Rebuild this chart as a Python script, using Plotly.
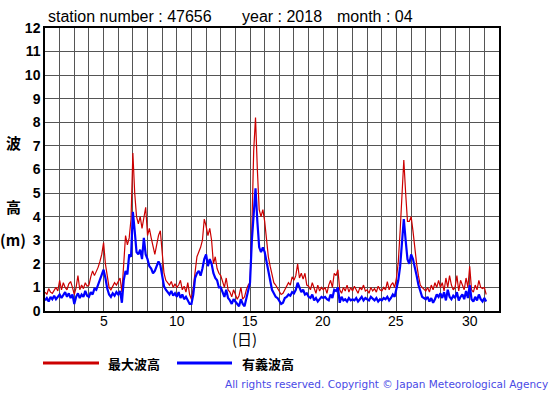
import numpy as np
import plotly.graph_objects as go

# 3-hourly samples starting at day 1 00:00 (8 per day)
max_wave = [
    0.80,0.70,0.95,0.80,0.75,0.90,1.00,0.85,
    1.30,0.90,1.20,1.00,0.90,1.15,1.25,1.00,
    0.70,1.00,1.50,0.90,1.10,0.95,1.20,1.05,
    1.10,1.45,1.70,1.50,1.65,1.85,2.10,2.40,
    2.90,2.00,1.50,1.00,0.90,1.05,1.20,1.10,
    1.25,1.40,0.80,2.00,3.20,2.80,3.10,3.90,
    6.70,5.00,4.00,3.70,4.00,3.50,3.90,4.40,
    3.20,3.50,3.10,2.80,2.40,2.80,3.20,3.40,
    2.60,1.60,1.30,1.20,1.10,1.25,1.00,1.15,
    1.00,1.10,1.30,0.90,1.05,0.80,1.20,0.70,
    0.50,1.00,1.80,2.30,2.50,2.70,3.00,3.90,
    3.60,3.20,3.50,3.00,2.00,2.30,1.80,1.60,
    1.50,1.20,1.00,1.40,0.90,0.80,0.60,0.90,
    0.70,0.50,0.65,1.00,0.50,0.60,0.90,1.10,
    1.20,3.50,6.80,8.20,6.00,4.30,4.00,4.30,
    3.80,3.00,2.30,1.90,1.50,1.20,1.10,0.95,
    0.85,0.70,0.75,0.90,1.00,1.20,1.10,1.45,
    1.30,1.50,2.00,1.40,1.60,1.35,1.60,1.10,
    1.05,0.90,1.20,1.00,0.75,1.10,0.85,1.00,
    0.90,1.00,0.75,1.10,1.30,1.00,1.60,1.50,
    1.75,0.90,0.75,1.00,0.85,1.10,0.80,1.00,
    0.85,1.05,0.90,0.75,1.00,0.90,1.10,0.85,
    0.90,0.75,1.00,0.85,0.95,0.80,1.05,0.90,
    0.85,1.00,0.90,1.25,0.90,1.10,1.20,1.00,
    1.40,2.10,3.40,5.20,6.40,5.00,3.80,3.80,
    4.00,3.40,2.60,2.00,1.50,1.10,1.00,0.90,
    0.85,1.00,0.80,1.10,0.90,1.20,1.00,1.30,
    1.00,1.20,0.85,1.40,1.00,1.50,1.10,0.90,
    1.00,1.50,0.85,1.30,1.10,0.90,1.40,1.00,
    1.90,0.90,0.80,1.10,0.90,1.30,1.00,0.95,
    1.00,0.70,
]
sig_wave = [
    0.45,0.55,0.40,0.60,0.50,0.65,0.50,0.60,
    0.70,0.55,0.65,0.80,0.60,0.75,0.55,0.70,
    0.30,0.60,0.75,0.55,0.70,0.60,0.85,0.65,
    0.60,0.80,0.70,0.95,0.90,1.10,1.30,1.50,
    1.75,1.40,0.95,0.70,0.60,0.75,0.65,0.80,
    0.70,0.85,0.35,1.30,1.70,1.55,2.40,2.30,
    4.20,3.40,2.50,2.40,2.60,2.20,3.10,2.40,
    2.20,1.90,1.80,1.60,1.70,1.90,2.10,1.95,
    1.50,1.05,0.90,0.80,0.70,0.85,0.65,0.75,
    0.60,0.80,0.55,0.70,0.50,0.60,0.45,0.30,
    0.30,0.70,1.40,1.60,1.70,1.50,1.80,2.20,
    2.40,1.90,2.20,2.00,1.60,1.40,1.30,1.00,
    1.00,0.80,0.60,0.90,0.55,0.45,0.30,0.50,
    0.40,0.30,0.20,0.50,0.30,0.20,0.55,0.80,
    1.20,3.00,4.20,5.20,3.80,2.70,2.50,2.70,
    2.50,2.10,1.60,1.20,0.90,0.75,0.60,0.55,
    0.45,0.30,0.35,0.55,0.60,0.70,0.65,0.80,
    0.75,0.90,1.20,0.95,0.80,0.90,0.70,0.75,
    0.60,0.55,0.70,0.45,0.55,0.40,0.50,0.60,
    0.55,0.60,0.50,0.45,0.70,0.55,0.90,0.85,
    1.00,0.35,0.60,0.45,0.50,0.40,0.55,0.45,
    0.50,0.45,0.55,0.40,0.50,0.60,0.45,0.55,
    0.50,0.45,0.60,0.50,0.45,0.55,0.40,0.50,
    0.45,0.55,0.50,0.60,0.45,0.55,0.70,0.60,
    0.90,1.30,1.90,2.80,3.90,3.00,2.20,2.00,
    2.40,2.20,1.90,1.50,1.10,0.80,0.60,0.55,
    0.50,0.60,0.40,0.55,0.35,0.50,0.70,0.60,
    0.75,0.55,0.80,0.45,0.90,0.60,0.50,0.65,
    0.55,0.80,0.45,0.60,0.70,0.50,0.85,0.55,
    1.10,0.50,0.40,0.60,0.45,0.70,0.50,0.40,
    0.55,0.40,
]
x_tick_labels = ["5", "10", "15", "20", "25", "30"]
x_tick_vals = [5, 10, 15, 20, 25, 30]
series_names = ["最大波高", "有義波高"]

days = 1 + np.arange(len(max_wave)) / 8.0

W, H = 555, 395
L, R, T, B = 45, 499, 28, 311


def px(x):
    return (x - L) / (R - L)


def py(y):
    return (B - y) / (B - T)


fig = go.Figure()
fig.add_trace(go.Scatter(x=days, y=max_wave, mode="lines", name=series_names[0],
                         line=dict(color="#cc0000", width=1.2), showlegend=False))
fig.add_trace(go.Scatter(x=days, y=sig_wave, mode="lines", name=series_names[1],
                         line=dict(color="#0000ff", width=2.2), showlegend=False))

grid_vals = list(range(1, 33))

fig.update_xaxes(range=[1, 32], tickmode="array", tickvals=grid_vals, showticklabels=False,
                 showgrid=True, gridcolor="#555555", gridwidth=1,
                 showline=True, linecolor="black", linewidth=1.5, mirror=True,
                 ticks="", zeroline=False)
fig.update_yaxes(range=[0, 12], dtick=1, tick0=0,
                 showgrid=True, gridcolor="#555555", gridwidth=1,
                 showline=True, linecolor="black", linewidth=1.5, mirror=True,
                 ticks="", zeroline=False, ticklabelstandoff=0,
                 tickfont=dict(family="Liberation Sans, Arial", size=14, color="black",
                               weight="bold"))

ann = []
def text(x, y, s, size=14, anchor="left", family="Liberation Sans, Arial", bold=False, color="black"):
    ann.append(dict(xref="paper", yref="paper", x=px(x), y=py(y), text=s, showarrow=False,
                    xanchor=anchor, yanchor="middle",
                    font=dict(family=family, size=size, color=color,
                              weight="bold" if bold else "normal")))

# x tick labels placed on the data scale just below the axis
for v, s in zip(x_tick_vals, x_tick_labels):
    ann.append(dict(xref="x", yref="paper", x=v, y=py(320.5), text=s, showarrow=False,
                    xanchor="center", yanchor="middle",
                    font=dict(family="Liberation Sans, Arial", size=14, color="black")))

text(46, 17, "station number : 47656", size=16)
text(240, 17, "year : 2018", size=16)
text(335, 17, "month : 04", size=16)
cjk = "Noto Sans CJK JP"
text(13, 142, "波", size=15, anchor="center", family=cjk, bold=True)
text(13, 206, "高", size=15, anchor="center", family=cjk, bold=True)
text(13, 239, "(m)", size=15, anchor="center", family=cjk, bold=True)
text(244, 338, "(日)", size=15, anchor="center", family=cjk)
text(134, 363, series_names[0], size=13, anchor="center", family=cjk, bold=True)
text(268, 363, series_names[1], size=13, anchor="center", family=cjk, bold=True)
text(550, 384, "All rights reserved. Copyright © Japan Meteorological Agency", size=10.5,
     anchor="right", family="DejaVu Sans", color="#4a4ae6")

shapes = [
    dict(type="line", xref="paper", yref="paper", x0=px(43), x1=px(99), y0=py(363), y1=py(363),
         line=dict(color="#cc0000", width=3)),
    dict(type="line", xref="paper", yref="paper", x0=px(177), x1=px(232), y0=py(363), y1=py(363),
         line=dict(color="#0000ff", width=3)),
]

fig.update_layout(width=W, height=H, margin=dict(l=L, r=W - R, t=T, b=H - B),
                  plot_bgcolor="white", paper_bgcolor="white",
                  annotations=ann, shapes=shapes, showlegend=False)

fig.write_html("out.html", config={"displayModeBar": False},
               post_script="document.body.style.margin='0';document.body.style.overflow='hidden';")
